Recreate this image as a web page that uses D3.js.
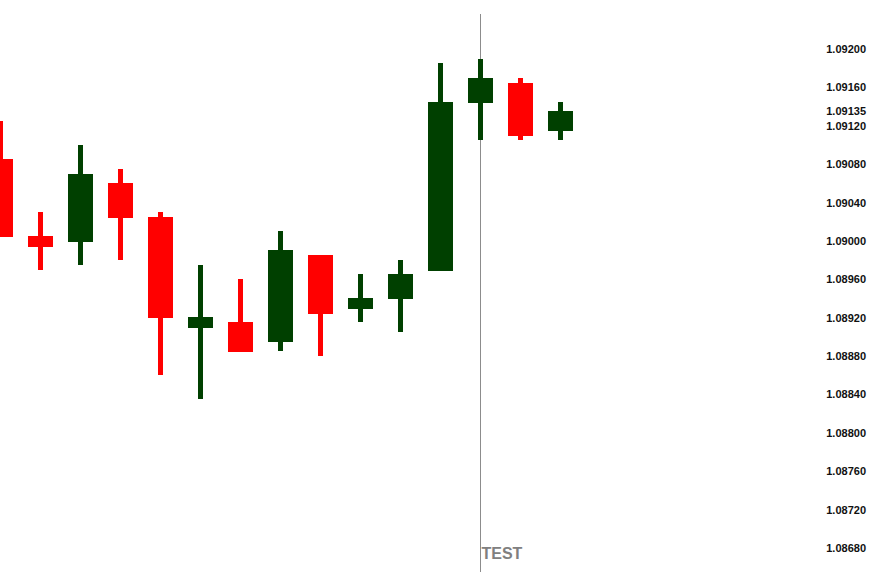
<!DOCTYPE html>
<html><head><meta charset="utf-8">
<script src="https://cdn.jsdelivr.net/npm/d3@7"></script>
<style>html,body{margin:0;padding:0;background:#fff;overflow:hidden}</style>
</head><body>
<svg id="chart" width="871" height="581"></svg>
<script>
const candleIndex = [0,1,2,3,4,5,6,7,8,9,10,11,12,13,14];
const opens  = [1.09085,1.09005,1.08999,1.09060,1.09025,1.08909,1.08916,1.08895,1.08985,1.08929,1.08940,1.08969,1.09144,1.09165,1.09115];
const highs  = [1.09125,1.09030,1.09100,1.09075,1.09030,1.08975,1.08960,1.09010,1.08985,1.08966,1.08980,1.09185,1.09190,1.09170,1.09145];
const lows   = [1.09004,1.08970,1.08975,1.08980,1.08860,1.08835,1.08884,1.08885,1.08880,1.08916,1.08905,1.08969,1.09105,1.09105,1.09105];
const closes = [1.09004,1.08994,1.09070,1.09024,1.08920,1.08921,1.08884,1.08991,1.08924,1.08941,1.08966,1.09145,1.09170,1.09109,1.09135];
const tickValues = [1.09200,1.09160,1.09135,1.09120,1.09080,1.09040,1.09000,1.08960,1.08920,1.08880,1.08840,1.08800,1.08760,1.08720,1.08680];
const markerIndex = 12;
const markerLabel = "TEST";

const svg = d3.select("#chart");
const x = d3.scaleLinear().domain([0,14]).range([0.5,560.5]);
const y = d3.scaleLinear().domain([1.0868,1.0920]).range([548,49]);
const ry = v => Math.round(y(v));

const up = "#004000", down = "#ff0000";
const bodyW = 25, wickW = 5;

const data = candleIndex.map(i => ({i, o:opens[i], h:highs[i], l:lows[i], c:closes[i]}));

// marker line
svg.append("line")
  .attr("x1", x(markerIndex)).attr("x2", x(markerIndex))
  .attr("y1", 14).attr("y2", 572)
  .attr("stroke", "#8c8c8c").attr("stroke-width", 1);

const g = svg.append("g").attr("shape-rendering","crispEdges");
g.selectAll("rect.wick").data(data).join("rect")
  .attr("class","wick")
  .attr("x", d => x(d.i) - wickW/2)
  .attr("width", wickW)
  .attr("y", d => ry(d.h))
  .attr("height", d => Math.max(1, ry(d.l) - ry(d.h)))
  .attr("fill", d => d.c >= d.o ? up : down);
g.selectAll("rect.body").data(data).join("rect")
  .attr("class","body")
  .attr("x", d => x(d.i) - bodyW/2)
  .attr("width", bodyW)
  .attr("y", d => ry(Math.max(d.o,d.c)))
  .attr("height", d => Math.max(1, Math.abs(ry(d.o) - ry(d.c))))
  .attr("fill", d => d.c >= d.o ? up : down);

// y axis on right
const axis = d3.axisRight(y).tickValues(tickValues).tickFormat(d3.format(".5f")).tickSize(0).tickPadding(0);
const ag = svg.append("g").attr("transform","translate(866,0)").call(axis);
ag.select(".domain").remove();
ag.selectAll("text")
  .attr("text-anchor","end")
  .attr("font-family","'Liberation Sans', Arial, sans-serif")
  .attr("font-weight","bold")
  .attr("font-size","11px")
  .attr("fill","#111");

svg.append("text")
  .attr("x", x(markerIndex) + 1).attr("y", 559)
  .attr("font-family","'Liberation Sans', Arial, sans-serif")
  .attr("font-weight","bold")
  .attr("font-size","16px")
  .attr("fill","#808080")
  .text(markerLabel);
</script>
</body></html>
